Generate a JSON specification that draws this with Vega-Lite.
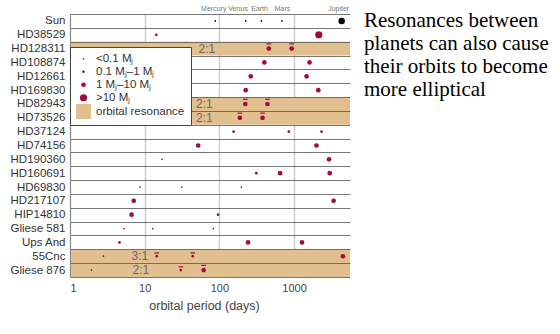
{
  "$schema": "https://vega.github.io/schema/vega-lite/v6.json",
  "width": 280,
  "height": 263,
  "autosize": {"type": "none"},
  "padding": {"left": 70, "top": 14, "right": 210, "bottom": 57},
  "background": "white",
  "config": {"font": "Liberation Sans", "view": {"stroke": null}},
  "datasets": {
    "planets": [
      {"star": "Sun", "name": "Mercury", "period": 88, "mass": "a", "res": false},
      {"star": "Sun", "name": "Venus", "period": 225, "mass": "a", "res": false},
      {"star": "Sun", "name": "Earth", "period": 365, "mass": "a", "res": false},
      {"star": "Sun", "name": "Mars", "period": 687, "mass": "a", "res": false},
      {"star": "Sun", "name": "Jupiter", "period": 4333, "mass": "c", "res": false},
      {"star": "HD38529", "period": 14.3, "mass": "b", "res": false},
      {"star": "HD38529", "period": 2140, "mass": "d", "res": false},
      {"star": "HD128311", "period": 458, "mass": "c", "res": true},
      {"star": "HD128311", "period": 928, "mass": "c", "res": true},
      {"star": "HD108874", "period": 400, "mass": "c", "res": false},
      {"star": "HD108874", "period": 1610, "mass": "c", "res": false},
      {"star": "HD12661", "period": 263, "mass": "c", "res": false},
      {"star": "HD12661", "period": 1470, "mass": "c", "res": false},
      {"star": "HD169830", "period": 225, "mass": "c", "res": false},
      {"star": "HD169830", "period": 2110, "mass": "c", "res": false},
      {"star": "HD82943", "period": 222, "mass": "c", "res": true},
      {"star": "HD82943", "period": 440, "mass": "c", "res": true},
      {"star": "HD73526", "period": 188, "mass": "c", "res": true},
      {"star": "HD73526", "period": 378, "mass": "c", "res": true},
      {"star": "HD37124", "period": 155, "mass": "b", "res": false},
      {"star": "HD37124", "period": 850, "mass": "b", "res": false},
      {"star": "HD37124", "period": 2330, "mass": "b", "res": false},
      {"star": "HD74156", "period": 52, "mass": "c", "res": false},
      {"star": "HD74156", "period": 1990, "mass": "c", "res": false},
      {"star": "HD190360", "period": 17.1, "mass": "a", "res": false},
      {"star": "HD190360", "period": 2930, "mass": "c", "res": false},
      {"star": "HD160691", "period": 312, "mass": "b", "res": false},
      {"star": "HD160691", "period": 650, "mass": "c", "res": false},
      {"star": "HD160691", "period": 3000, "mass": "c", "res": false},
      {"star": "HD69830", "period": 8.67, "mass": "a", "res": false},
      {"star": "HD69830", "period": 31.4, "mass": "a", "res": false},
      {"star": "HD69830", "period": 197, "mass": "a", "res": false},
      {"star": "HD217107", "period": 7.13, "mass": "c", "res": false},
      {"star": "HD217107", "period": 3380, "mass": "c", "res": false},
      {"star": "HIP14810", "period": 6.67, "mass": "c", "res": false},
      {"star": "HIP14810", "period": 96, "mass": "b", "res": false},
      {"star": "Gliese 581", "period": 5.3, "mass": "a", "res": false},
      {"star": "Gliese 581", "period": 12.8, "mass": "a", "res": false},
      {"star": "Gliese 581", "period": 83, "mass": "a", "res": false},
      {"star": "Ups And", "period": 4.6, "mass": "b", "res": false},
      {"star": "Ups And", "period": 242, "mass": "c", "res": false},
      {"star": "Ups And", "period": 1276, "mass": "c", "res": false},
      {"star": "55Cnc", "period": 2.8, "mass": "a", "res": false},
      {"star": "55Cnc", "period": 14.5, "mass": "b", "res": true},
      {"star": "55Cnc", "period": 44, "mass": "b", "res": true},
      {"star": "55Cnc", "period": 4500, "mass": "c", "res": false},
      {"star": "Gliese 876", "period": 1.94, "mass": "a", "res": false},
      {"star": "Gliese 876", "period": 30.4, "mass": "b", "res": true},
      {"star": "Gliese 876", "period": 61.5, "mass": "c", "res": true}
    ],
    "res": [
      {"star": "HD128311", "ratio": "2:1", "lx": 68},
      {"star": "HD82943", "ratio": "2:1", "lx": 63},
      {"star": "HD73526", "ratio": "2:1", "lx": 63},
      {"star": "55Cnc", "ratio": "3:1", "lx": 8.6},
      {"star": "Gliese 876", "ratio": "2:1", "lx": 8.9}
    ],
    "solar": [
      {"name": "Mercury", "lx": 84},
      {"name": "Venus", "lx": 177},
      {"name": "Earth", "lx": 345},
      {"name": "Mars", "lx": 700},
      {"name": "Jupiter", "lx": 3950}
    ]
  },
  "layer": [
    {
      "data": {"name": "res"},
      "mark": {"type": "rect", "color": "#e1bf8e"},
      "encoding": {
        "y": {"field": "star", "type": "nominal", "title": null},
        "x": {"datum": 1},
        "x2": {"datum": 5600}
      }
    },
    {
      "data": {"name": "res"},
      "mark": {"type": "text", "fontSize": 12, "color": "#6a6a6a"},
      "encoding": {
        "x": {"field": "lx", "type": "quantitative", "title": "orbital period (days)"},
        "y": {"field": "star", "type": "nominal", "title": null},
        "text": {"field": "ratio"}
      }
    },
    {
      "data": {"name": "planets"},
      "mark": {"type": "point", "filled": true, "opacity": 1, "strokeWidth": 0},
      "encoding": {
        "x": {
          "field": "period", "type": "quantitative", "title": "orbital period (days)",
          "scale": {"type": "log", "domain": [1, 5600], "nice": false},
          "axis": {"values": [1, 10, 100, 1000], "format": "d", "grid": true, "gridColor": "#cfcfcf", "gridWidth": 1.5, "ticks": false, "domain": false, "labelFontSize": 11, "labelColor": "#444", "labelPadding": 5, "titleFontSize": 12.5, "titleFontWeight": "normal", "titleColor": "#444", "titlePadding": 6, "titleX": 134, "zindex": 0}
        },
        "y": {
          "field": "star", "type": "nominal", "title": null,
          "scale": {"type": "band", "paddingInner": 0, "paddingOuter": 0, "domain": ["Sun", "HD38529", "HD128311", "HD108874", "HD12661", "HD169830", "HD82943", "HD73526", "HD37124", "HD74156", "HD190360", "HD160691", "HD69830", "HD217107", "HIP14810", "Gliese 581", "Ups And", "55Cnc", "Gliese 876"]},
          "axis": {"grid": true, "tickBand": "extent", "gridColor": "#555", "gridWidth": 1.2, "gridOpacity": 0.8, "ticks": false, "domain": true, "domainColor": "#888", "domainWidth": 1, "labelFontSize": 11.5, "labelColor": "#333", "labelPadding": 5, "zindex": 1}
        },
        "color": {
          "field": "mass", "type": "ordinal",
          "scale": {"type": "ordinal", "domain": ["a", "b", "c", "d", "e"], "range": ["#a50a3c", "#a50a3c", "#a50a3c", "#a50a3c", "#e1bf8e"]},
          "condition": {"test": "datum.star === 'Sun'", "value": "#000000"},
          "legend": {"orient": "none", "legendX": 0, "legendY": 33, "title": null, "fillColor": "white", "strokeColor": "#444", "padding": 6, "labelFont": "Liberation Sans", "labelFontSize": 11.5, "labelColor": "#333", "labelOffset": 5, "rowPadding": 0, "symbolOpacity": 1, "symbolStrokeWidth": 0, "zindex": 2,
            "labelExpr": "{'a': '<0.1 Mⱼ', 'b': '0.1 Mⱼ–1 Mⱼ', 'c': '1 Mⱼ–10 Mⱼ', 'd': '>10 Mⱼ', 'e': 'orbital resonance'}[datum.label]"}
        },
        "size": {
          "field": "mass", "type": "ordinal",
          "scale": {"type": "ordinal", "domain": ["a", "b", "c", "d", "e"], "range": [3, 7.5, 22, 52, 225]},
          "condition": {"test": "datum.name === 'Jupiter'", "value": 42}
        },
        "shape": {
          "field": "mass", "type": "ordinal",
          "scale": {"type": "ordinal", "domain": ["a", "b", "c", "d", "e"], "range": ["circle", "circle", "circle", "circle", "square"]}
        }
      }
    },
    {
      "data": {"name": "planets"},
      "transform": [{"filter": "datum.res"}],
      "mark": {"type": "point", "filled": true, "opacity": 1, "strokeWidth": 0, "size": 22, "color": "#a50a3c"},
      "encoding": {
        "x": {"field": "period", "type": "quantitative", "title": "orbital period (days)"},
        "y": {"field": "star", "type": "nominal", "title": null},
        "shape": {"condition": {"test": "datum.mass === 'b'", "value": "M-1,-1.65H1V-1.15H-1Z"}, "value": "M-1,-2.25H1V-1.75H-1Z"}
      }
    },
    {
      "data": {"name": "solar"},
      "mark": {"type": "text", "fontSize": 7, "color": "#777", "dy": -10, "baseline": "alphabetic"},
      "encoding": {
        "x": {"field": "lx", "type": "quantitative", "title": "orbital period (days)"},
        "y": {"datum": "Sun"},
        "text": {"field": "name"}
      }
    },
    {
      "data": {"values": [{}]},
      "mark": {"type": "text", "text": ["Resonances between", "planets can also cause", "their orbits to become", "more elliptical"], "font": "Liberation Serif", "fontSize": 21, "lineHeight": 23, "align": "left", "baseline": "alphabetic", "color": "#000", "dx": 14, "dy": 6},
      "encoding": {
        "x": {"datum": 5600},
        "y": {"datum": "Sun"}
      }
    }
  ]
}
